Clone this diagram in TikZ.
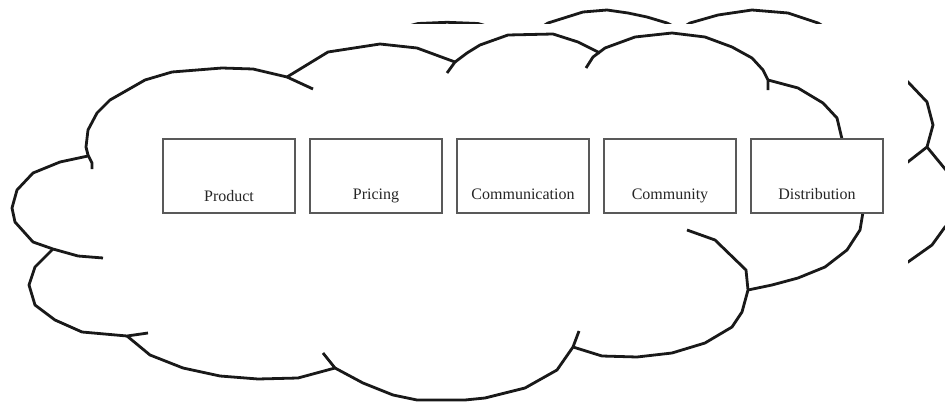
\documentclass[tikz,border=0pt]{standalone}
\usepackage{fontspec}
\setmainfont{Liberation Serif}
\begin{document}
\begin{tikzpicture}[x=1pt,y=-1pt,
  cloudline/.style={line width=2.8pt,draw=black!90,line join=miter,miter limit=3},
  stage/.style={draw=black!65,line width=1.1pt,minimum width=132pt,minimum height=74pt,inner sep=0pt},
  stagelabel/.style={anchor=base,font=\fontsize{16}{18}\selectfont,text=black!85}]
\useasboundingbox (0,0) rectangle (945,404);

% cloud outline pieces
\coordinate (c1) at (287,77);
\coordinate (c2) at (455,62);
\coordinate (c3) at (768,80);
\coordinate (c4) at (53,249);
\coordinate (c5) at (127,336);
\coordinate (c6) at (335,368);
\coordinate (c7) at (573,347);
\coordinate (c8) at (748,290);

\draw[cloudline] (313,89) -- (c1) -- (253,69) -- (222,68) -- (172,72) -- (145,80) -- (110,100)
  -- (97,113) -- (88,130) -- (86,147) -- (88,155) -- (92,163) -- (92,169);
\draw[cloudline] (c1) -- (328,52) -- (380,44) -- (417,48) -- (c2) -- (447,73);
\draw[cloudline] (c2) -- (467,53) -- (480,45) -- (508,35) -- (553,34) -- (578,42) -- (600,53);
\draw[cloudline] (586,68) -- (593,57) -- (605,48) -- (635,37) -- (672,33) -- (705,37) -- (732,47)
  -- (752,58) -- (763,70) -- (c3) -- (768,90);
\draw[cloudline] (c3) -- (798,88) -- (823,103) -- (837,118) -- (842,139);
\draw[cloudline] (88,156) -- (60,162) -- (33,173) -- (17,190) -- (12,208) -- (15,222) -- (33,242)
  -- (c4) -- (78,256) -- (103,258);
\draw[cloudline] (c4) -- (35,267) -- (29,285) -- (35,305) -- (55,320) -- (82,332) -- (c5) -- (148,333);
\draw[cloudline] (c5) -- (150,355) -- (183,368) -- (220,376) -- (258,379) -- (298,378) -- (c6) -- (323,353);
\draw[cloudline] (c6) -- (363,383) -- (393,395) -- (417,400) -- (465,400) -- (485,398) -- (525,388)
  -- (557,370) -- (c7) -- (579,331);
\draw[cloudline] (c7) -- (602,356) -- (637,357) -- (672,353) -- (705,343) -- (732,327) -- (742,312)
  -- (c8) -- (746,270) -- (715,240) -- (687,230);
\draw[cloudline] (c8) -- (772,285) -- (798,278) -- (825,267) -- (847,250) -- (860,230) -- (863,212);

% lobes of the cloud behind, cut off at the top
\begin{scope}
  \clip (0,0) rectangle (945,23.5);
  \draw[cloudline] (405,27) -- (418,23.5) -- (447,22.3) -- (478,23.5) -- (490,27);
  \draw[cloudline] (540,28) -- (548,23) -- (583,12) -- (607,10) -- (628,13) -- (647,17) -- (667,23) -- (677,28);
  \draw[cloudline] (682,28) -- (690,23) -- (718,15) -- (752,10) -- (788,13) -- (818,23) -- (828,29);
\end{scope}

% lobes of the cloud behind, cut off at the right
\begin{scope}
  \clip (908,0) rectangle (945,404);
  \coordinate (r1) at (927,147);
  \draw[cloudline] (895,70) -- (908,82) -- (927,102) -- (933,125) -- (r1) -- (895,172);
  \draw[cloudline] (r1) -- (950,175);
  \draw[cloudline] (950,222) -- (945,227) -- (932,245) -- (908,262) -- (895,268);
\end{scope}

% the five stages
\node[stage,fill=white] (product) at (229,176) {};
\node[stage,fill=white] (pricing) at (376,176) {};
\node[stage,fill=white] (communication) at (523,176) {};
\node[stage,fill=white] (community) at (670,176) {};
\node[stage,fill=white] (distribution) at (817,176) {};

\node[stagelabel] (productlabel) at ([yshift=12pt]product.south) {Product};
\node[stagelabel] (pricinglabel) at ([yshift=14pt]pricing.south) {Pricing};
\node[stagelabel] (communicationlabel) at ([yshift=14pt]communication.south) {Communication};
\node[stagelabel] (communitylabel) at ([yshift=14pt]community.south) {Community};
\node[stagelabel] (distributionlabel) at ([yshift=14pt]distribution.south) {Distribution};
\end{tikzpicture}
\end{document}
